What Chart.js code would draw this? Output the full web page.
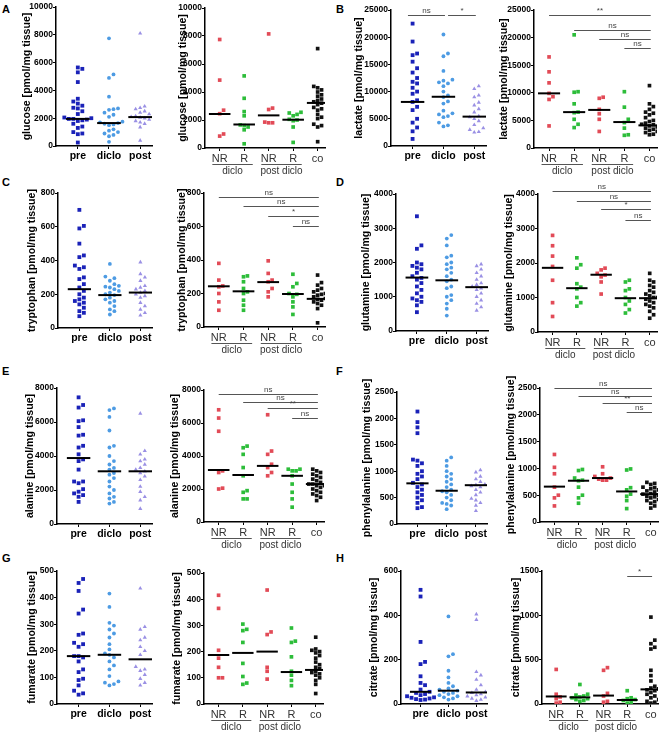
<!DOCTYPE html>
<html>
<head>
<meta charset="utf-8">
<script src="https://cdn.jsdelivr.net/npm/chart.js@4.4.0/dist/chart.umd.min.js"></script>
<style>
  body { margin: 0; background: #fff; width: 669px; height: 736px; position: relative; overflow: hidden; }
  canvas { position: absolute; }
  .letter { position: absolute; font: bold 11px "Liberation Sans", Arial, sans-serif; line-height: 1; }
</style>
</head>
<body>
<div class="letter" style="left:2px;top:4px">A</div>
<div class="letter" style="left:336px;top:4px">B</div>
<div class="letter" style="left:2px;top:177px">C</div>
<div class="letter" style="left:336px;top:177px">D</div>
<div class="letter" style="left:2px;top:366px">E</div>
<div class="letter" style="left:336px;top:366px">F</div>
<div class="letter" style="left:2px;top:553px">G</div>
<div class="letter" style="left:336px;top:553px">H</div>
<script>
// categories
const phaseCats = ['pre', 'diclo', 'post'];
const responseCats = ['NR', 'R', 'NR', 'R', 'co'];
const groupLabels = ['diclo', 'post diclo'];

// glucose
const glucoseByPhase = [
  [5650, 5550, 5300, 4600, 3400, 3200, 3050, 2900, 2750, 2700, 2500, 2300, 2050, 2000, 1950, 1950, 1900, 1850, 1800, 1600, 1400, 1300, 1000, 900, 850, 250],
  [7750, 5150, 4900, 3550, 2700, 2650, 2600, 2400, 2250, 2100, 1750, 1700, 1650, 1600, 1550, 1500, 1200, 1100, 1000, 900, 800, 700, 300],
  [8100, 2850, 2750, 2650, 2500, 2400, 2300, 2150, 2100, 2050, 2000, 1900, 1800, 1700, 1600, 1350, 400]
];
const glucosePhaseMedians = [1950, 1650, 2080];
const glucoseByResponse = [
  [7750, 4850, 2700, 2450, 1000, 850],
  [5150, 3550, 2600, 2300, 1650, 1600, 1500, 1300, 300],
  [8150, 2850, 2750, 1850, 1800, 1800],
  [2550, 2500, 2400, 2300, 2050, 2000, 1950, 1500, 400],
  [7100, 4400, 4300, 4150, 4000, 3800, 3700, 3500, 3400, 3300, 3200, 3100, 2900, 2800, 2700, 2400, 2200, 2100, 1700, 1600, 1500, 450]
];
const glucoseResponseMedians = [2430, 1680, 2330, 2020, 3220];
const glucoseTicks = [0, 2000, 4000, 6000, 8000, 10000];

// lactate
const lactateByPhase = [
  [22500, 19200, 17000, 16700, 15500, 14300, 13500, 12500, 11800, 11500, 10700, 10000, 9600, 8400, 8100, 7200, 6600, 5000, 4300, 3400, 2700, 1300],
  [20500, 17000, 16500, 13800, 12200, 12000, 11700, 11500, 11000, 10000, 9300, 9000, 8200, 7800, 6500, 6000, 5800, 5500, 5300, 4300, 3800, 3600],
  [11000, 10500, 9300, 9000, 8000, 7500, 6800, 6200, 5500, 5300, 5000, 4600, 3900, 3300, 3000, 2600, 2500]
];
const lactatePhaseMedians = [8100, 9050, 5400];
const lactateByResponse = [
  [16500, 13800, 11800, 9900, 9300, 8800, 4000],
  [20500, 10200, 10100, 8000, 6500, 6400, 5200, 4300, 3700],
  [9200, 9000, 7000, 6200, 5200, 3000],
  [10200, 7400, 5200, 4600, 3600, 2400, 2300],
  [11300, 8000, 7500, 7000, 6500, 6300, 6000, 5500, 5000, 4800, 4500, 4300, 4200, 4000, 3800, 3600, 3400, 3200, 3000, 2800, 2500, 2400]
];
const lactateResponseMedians = [9900, 6500, 6900, 4700, 4100];
const lactateTicks = [0, 5000, 10000, 15000, 20000, 25000];

// tryptophan
const tryptophanByPhase = [
  [700, 605, 590, 500, 430, 420, 370, 360, 350, 300, 290, 260, 240, 220, 200, 180, 170, 160, 150, 140, 120, 100, 90, 70],
  [380, 305, 295, 280, 260, 250, 245, 240, 230, 220, 210, 200, 195, 180, 170, 160, 150, 130, 110, 100, 80],
  [390, 320, 300, 280, 250, 240, 230, 220, 210, 200, 190, 180, 150, 130, 110, 90, 75]
];
const tryptophanPhaseMedians = [230, 195, 210];
const tryptophanByResponse = [
  [380, 280, 245, 240, 200, 150, 100],
  [305, 300, 270, 230, 210, 200, 160, 130, 100],
  [395, 320, 280, 270, 230, 210, 180],
  [315, 260, 240, 200, 195, 180, 150, 120, 75],
  [310, 265, 250, 230, 220, 210, 200, 195, 190, 180, 170, 165, 160, 150, 140, 130, 110, 25]
];
const tryptophanResponseMedians = [243, 213, 268, 197, 168];
const tryptophanTicks = [0, 200, 400, 600, 800];

// glutamine
const glutamineByPhase = [
  [3350, 2500, 2400, 2000, 1950, 1900, 1850, 1800, 1700, 1600, 1550, 1500, 1400, 1300, 1200, 1100, 1000, 950, 900, 850, 750, 550],
  [2800, 2700, 2500, 2200, 2150, 2000, 1950, 1850, 1800, 1700, 1600, 1500, 1450, 1300, 1250, 1050, 1000, 900, 800, 650, 450],
  [1950, 1900, 1800, 1700, 1600, 1500, 1400, 1350, 1300, 1250, 1200, 1100, 1000, 900, 800, 700, 600]
];
const glutaminePhaseMedians = [1560, 1480, 1280];
const glutamineByResponse = [
  [2800, 2500, 2200, 1900, 1500, 850, 450],
  [2150, 1950, 1850, 1400, 1300, 1250, 1000, 850, 750],
  [1850, 1800, 1700, 1650, 1600, 1450, 1100],
  [1500, 1450, 1250, 1200, 1000, 900, 800, 650, 550],
  [1700, 1500, 1450, 1350, 1300, 1200, 1150, 1100, 1050, 1000, 1000, 950, 900, 850, 800, 750, 700, 600, 500, 400]
];
const glutamineResponseMedians = [1860, 1270, 1660, 980, 980];
const glutamineTicks = [0, 1000, 2000, 3000, 4000];

// alanine
const alanineByPhase = [
  [7450, 7000, 6850, 6100, 6050, 5700, 5250, 5200, 4600, 4500, 4100, 3800, 3700, 3200, 2500, 2500, 2400, 2050, 1900, 1800, 1700, 1600, 1300],
  [6800, 6700, 6300, 5500, 4600, 4500, 4000, 3700, 3500, 3300, 3200, 3000, 2900, 2700, 2500, 2200, 2000, 1800, 1600, 1500, 1300, 1200],
  [6500, 4300, 4100, 3800, 3700, 3500, 3300, 3200, 3100, 3000, 2800, 2600, 2200, 1900, 1600, 1400, 900]
];
const alaninePhaseMedians = [3880, 3100, 3100];
const alanineByResponse = [
  [6800, 6300, 5500, 3100, 3000, 2050, 2000],
  [4600, 4500, 4100, 3300, 2800, 1900, 1800, 1400, 1400],
  [6500, 4300, 4100, 3500, 3300, 3000, 2800],
  [3200, 3200, 3100, 3100, 2800, 2300, 1800, 1400, 900],
  [3200, 3100, 3000, 2900, 2800, 2700, 2600, 2500, 2400, 2300, 2300, 2200, 2200, 2100, 2000, 1900, 1800, 1700, 1600, 1500, 1300]
];
const alanineResponseMedians = [3150, 2850, 3400, 2800, 2300];
const alanineTicks = [0, 2000, 4000, 6000, 8000];

// phenylalanine
const phenylalanineByPhase = [
  [2130, 1930, 1830, 1720, 1220, 1200, 1150, 1100, 1000, 950, 900, 850, 780, 750, 700, 650, 600, 550, 500, 450, 400, 320, 300],
  [1260, 1200, 1100, 1000, 950, 900, 850, 800, 750, 700, 650, 620, 600, 550, 500, 450, 400, 380, 350, 280],
  [1020, 980, 900, 850, 800, 750, 740, 720, 700, 650, 600, 550, 480, 450, 400, 350, 250]
];
const phenylalaninePhaseMedians = [770, 630, 735];
const phenylalanineByResponse = [
  [1260, 1020, 900, 650, 500, 450, 300],
  [980, 960, 820, 780, 770, 650, 500, 450, 350],
  [1030, 900, 850, 820, 800, 780, 780],
  [990, 970, 640, 600, 520, 480, 400, 250],
  [740, 720, 700, 650, 640, 620, 600, 580, 560, 540, 530, 520, 500, 480, 470, 450, 420, 400, 380, 350, 300, 260]
];
const phenylalanineResponseMedians = [660, 770, 820, 570, 520];
const phenylalanineTicks = [0, 500, 1000, 1500, 2000, 2500];

// fumarate
const fumarateByPhase = [
  [470, 455, 425, 355, 340, 265, 260, 230, 225, 215, 180, 180, 175, 160, 130, 120, 95, 90, 70, 50, 40, 35],
  [415, 365, 305, 295, 280, 265, 250, 225, 205, 190, 185, 175, 160, 145, 130, 105, 85, 80, 75, 70],
  [435, 290, 280, 250, 240, 215, 200, 185, 140, 130, 125, 110, 95, 80, 70]
];
const fumaratePhaseMedians = [180, 185, 168];
const fumarateByResponse = [
  [415, 365, 205, 175, 140, 100, 100],
  [305, 285, 280, 235, 155, 105, 80, 75],
  [435, 275, 265, 140, 125, 95],
  [290, 240, 235, 180, 125, 110, 90, 70],
  [255, 210, 205, 200, 195, 185, 175, 160, 150, 140, 135, 125, 120, 115, 110, 100, 90, 75, 40]
];
const fumarateResponseMedians = [187, 195, 200, 122, 130];
const fumarateTicks = [0, 100, 200, 300, 400, 500];

// citrate
const citrateByPhase = [
  [515, 485, 280, 190, 180, 125, 95, 85, 65, 55, 50, 45, 40, 35, 30, 28, 25, 22, 20, 18],
  [395, 225, 215, 150, 120, 95, 80, 70, 65, 60, 55, 50, 45, 40, 35, 30, 25, 20],
  [405, 380, 145, 130, 110, 85, 65, 55, 50, 45, 40, 35, 30, 25, 20, 15]
];
const citratePhaseMedians = [55, 60, 52];
const citrateByResponse = [
  [390, 110, 80, 60, 20, 10],
  [220, 110, 100, 90, 80, 70, 60, 50, 40, 30],
  [410, 380, 120, 90, 30, 20],
  [150, 70, 60, 50, 40, 20, 10],
  [980, 720, 680, 640, 620, 380, 320, 260, 200, 180, 170, 160, 150, 130, 110, 90, 70, 50, 30, 20, 10]
];
const citrateResponseMedians = [85, 75, 95, 45, 165];
const citratePhaseTicks = [0, 200, 400, 600];
const citrateResponseTicks = [0, 500, 1000, 1500];

// look
const FONT = '"Liberation Sans", Arial, sans-serif';
Chart.defaults.font.family = FONT;
const phaseColors = ['#1a22b8', '#4d9be3', '#9a90e4'];
const phaseStyles = ['rect', 'circle', 'triangle'];
const phaseRadii = [2.7, 1.9, 2.4];
const responseColors = ['#e24b57', '#2dbd3a', '#e24b57', '#2dbd3a', '#111111'];

// chart-area boxes in page pixels (l/t/r/b) and y-title centre
const boxes = {
  A1: { l: 56, t: 7, r: 152, b: 146, tc: 27 },  A2: { l: 205, t: 8, r: 325, b: 148, tc: 183 },
  B1: { l: 391, t: 10, r: 486, b: 146, tc: 359 }, B2: { l: 534, t: 10, r: 657, b: 148, tc: 504 },
  C1: { l: 58, t: 193, r: 152, b: 328, tc: 32 },  C2: { l: 204, t: 193, r: 325, b: 327, tc: 182 },
  D1: { l: 396, t: 194, r: 488, b: 331, tc: 366 }, D2: { l: 538, t: 194, r: 657, b: 332, tc: 509 },
  E1: { l: 57, t: 388, r: 152, b: 524, tc: 30 },  E2: { l: 204, t: 390, r: 324, b: 522, tc: 175 },
  F1: { l: 397, t: 392, r: 487, b: 524, tc: 367 }, F2: { l: 540, t: 388, r: 658, b: 522, tc: 511 },
  G1: { l: 57, t: 571, r: 152, b: 704, tc: 32 },  G2: { l: 204, t: 573, r: 323, b: 704, tc: 177 },
  H1: { l: 401, t: 571, r: 487, b: 704, tc: 374 }, H2: { l: 542, t: 571, r: 658, b: 704, tc: 516 }
};

// significance bars: [from, to, height as share of axis max, label]
const fourBars = (lv, labels) => [0, 1, 2, 3].map(i => [i, 4.05, lv[i], labels[i]]);
const bars = {
  B1: [[-0.15, 1.05, 0.965, 'ns'], [1.15, 2.05, 0.965, '*']],
  B2: fourBars([0.964, 0.855, 0.79, 0.725], ['**', 'ns', 'ns', 'ns']),
  C2: fourBars([0.97, 0.905, 0.83, 0.755], ['ns', 'ns', '*', 'ns']),
  D2: fourBars([1.02, 0.95, 0.89, 0.81], ['ns', 'ns', '*', 'ns']),
  E2: fourBars([0.97, 0.91, 0.86, 0.79], ['ns', 'ns', '**', 'ns']),
  F2: fourBars([1.0, 0.94, 0.89, 0.82], ['ns', 'ns', '**', 'ns']),
  H2: [[3, 4.05, 0.96, '*']]
};

// spread points of one group sideways so they do not overlap (beeswarm)
function swarm(values, center, pxX, pxY, step) {
  const placed = [];
  const out = [];
  values.slice().sort((a, b) => a - b).forEach(v => {
    const py = v * pxY;
    let best = 0;
    for (let n = 0; n < 14; n++) {
      const off = n === 0 ? 0 : (n % 2 ? 1 : -1) * Math.ceil(n / 2) * step;
      if (placed.every(p => Math.hypot(p.x - off, p.y - py) >= step)) { best = off; break; }
    }
    placed.push({ x: best, y: py });
    out.push({ x: center + best / pxX, y: v });
  });
  return out;
}

function makeChart(key, groups, medians, ticks, title, right) {
  const box = boxes[key];
  const PT = 14, PR = 8, XH = 18, PB = right ? 30 : 4;
  const left0 = box.tc - 6;
  const YW = box.l - left0;
  const cv = document.createElement('canvas');
  cv.width = YW + (box.r - box.l) + PR;
  cv.height = PT + (box.b - box.t) + XH + PB;
  cv.style.left = left0 + 'px';
  cv.style.top = (box.t - PT) + 'px';
  document.body.appendChild(cv);

  const cats = right ? responseCats : phaseCats;
  const xmin = right ? -0.6 : -0.7, xmax = right ? 4.3 : 2.38;
  const ymax = ticks[ticks.length - 1];
  const pxX = (box.r - box.l) / (xmax - xmin), pxY = (box.b - box.t) / ymax;
  const hw = right ? 0.44 : 0.38;

  const datasets = [];
  groups.forEach((vals, i) => {
    datasets.push({
      data: swarm(vals, i, pxX, pxY, right ? 3.9 : 4.5),
      pointStyle: right ? 'rect' : phaseStyles[i],
      pointRadius: right ? 2.6 : phaseRadii[i],
      backgroundColor: right ? responseColors[i] : phaseColors[i],
      borderWidth: 0
    });
  });
  medians.forEach((m, i) => {
    datasets.push({
      data: [{ x: i - hw, y: m }, { x: i + hw, y: m }],
      showLine: true, borderColor: '#000', borderWidth: 2, pointRadius: 0, order: -1
    });
  });

  const marks = {
    id: 'marks',
    afterDraw(chart) {
      const ctx = chart.ctx, xs = chart.scales.x, ys = chart.scales.y;
      ctx.save();
      (bars[key] || []).forEach(([a, b, lv, txt]) => {
        const y = Math.round(ys.getPixelForValue(lv * ymax)) + 0.5;
        const x1 = xs.getPixelForValue(a), x2 = xs.getPixelForValue(b);
        ctx.strokeStyle = '#555'; ctx.lineWidth = 1;
        ctx.beginPath(); ctx.moveTo(x1, y); ctx.lineTo(x2, y); ctx.stroke();
        ctx.fillStyle = '#444'; ctx.font = '8px ' + FONT;
        ctx.textAlign = 'center'; ctx.textBaseline = 'bottom';
        ctx.fillText(txt, (x1 + x2) / 2, y - 0.5);
      });
      if (right) {
        const y0 = chart.chartArea.bottom;
        ctx.strokeStyle = '#555'; ctx.lineWidth = 1;
        ctx.fillStyle = '#333'; ctx.font = '10px ' + FONT;
        ctx.textAlign = 'center'; ctx.textBaseline = 'top';
        groupLabels.forEach((g, k) => {
          const a = xs.getPixelForValue(2 * k - 0.3), b = xs.getPixelForValue(2 * k + 1.35);
          ctx.beginPath(); ctx.moveTo(a, y0 + 16.5); ctx.lineTo(b, y0 + 16.5); ctx.stroke();
          ctx.fillText(g, (a + b) / 2, y0 + 18.5);
        });
      }
      ctx.restore();
    }
  };

  new Chart(cv, {
    type: 'scatter',
    data: { datasets },
    plugins: [marks],
    options: {
      responsive: false,
      animation: false,
      events: [],
      layout: { padding: { top: PT, right: PR, bottom: PB, left: 0 } },
      plugins: { legend: { display: false }, tooltip: { enabled: false } },
      scales: {
        x: {
          type: 'linear', min: xmin, max: xmax,
          afterBuildTicks: s => { s.ticks = cats.map((c, i) => ({ value: i })); },
          afterFit: s => { s.height = XH; },
          ticks: {
            autoSkip: false, maxRotation: 0, padding: 1,
            callback: v => cats[Math.round(v)],
            color: right ? '#333' : '#000',
            font: right ? { size: 11 } : { size: 10.5, weight: 'bold' }
          },
          grid: { drawOnChartArea: false, drawTicks: true, tickLength: 3, color: '#000' },
          border: { display: true, color: '#000', width: 1.5 }
        },
        y: {
          min: 0, max: ymax,
          afterBuildTicks: s => { s.ticks = ticks.map(v => ({ value: v })); },
          afterFit: s => { s.width = YW; },
          ticks: { padding: 0, color: '#000', font: { size: 8.5, weight: 'bold' }, callback: v => String(v) },
          grid: { drawOnChartArea: false, drawTicks: true, tickLength: 3, color: '#000' },
          border: { display: true, color: '#000', width: 1.5 },
          title: { display: true, text: title, color: '#000', padding: 0, font: { size: 10.6, weight: 'bold' } }
        }
      }
    }
  });
}

makeChart('A1', glucoseByPhase, glucosePhaseMedians, glucoseTicks, 'glucose [pmol/mg tissue]', false);
makeChart('A2', glucoseByResponse, glucoseResponseMedians, glucoseTicks, 'glucose [pmol/mg tissue]', true);
makeChart('B1', lactateByPhase, lactatePhaseMedians, lactateTicks, 'lactate [pmol/mg tissue]', false);
makeChart('B2', lactateByResponse, lactateResponseMedians, lactateTicks, 'lactate [pmol/mg tissue]', true);
makeChart('C1', tryptophanByPhase, tryptophanPhaseMedians, tryptophanTicks, 'tryptophan [pmol/mg tissue]', false);
makeChart('C2', tryptophanByResponse, tryptophanResponseMedians, tryptophanTicks, 'tryptophan [pmol/mg tissue]', true);
makeChart('D1', glutamineByPhase, glutaminePhaseMedians, glutamineTicks, 'glutamine [pmol/mg tissue]', false);
makeChart('D2', glutamineByResponse, glutamineResponseMedians, glutamineTicks, 'glutamine [pmol/mg tissue]', true);
makeChart('E1', alanineByPhase, alaninePhaseMedians, alanineTicks, 'alanine [pmol/mg tissue]', false);
makeChart('E2', alanineByResponse, alanineResponseMedians, alanineTicks, 'alanine [pmol/mg tissue]', true);
makeChart('F1', phenylalanineByPhase, phenylalaninePhaseMedians, phenylalanineTicks, 'phenylalanine [pmol/mg tissue]', false);
makeChart('F2', phenylalanineByResponse, phenylalanineResponseMedians, phenylalanineTicks, 'phenylalanine [pmol/mg tissue]', true);
makeChart('G1', fumarateByPhase, fumaratePhaseMedians, fumarateTicks, 'fumarate [pmol/mg tissue]', false);
makeChart('G2', fumarateByResponse, fumarateResponseMedians, fumarateTicks, 'fumarate [pmol/mg tissue]', true);
makeChart('H1', citrateByPhase, citratePhaseMedians, citratePhaseTicks, 'citrate [pmol/mg tissue]', false);
makeChart('H2', citrateByResponse, citrateResponseMedians, citrateResponseTicks, 'citrate [pmol/mg tissue]', true);
</script>
</body>
</html>
